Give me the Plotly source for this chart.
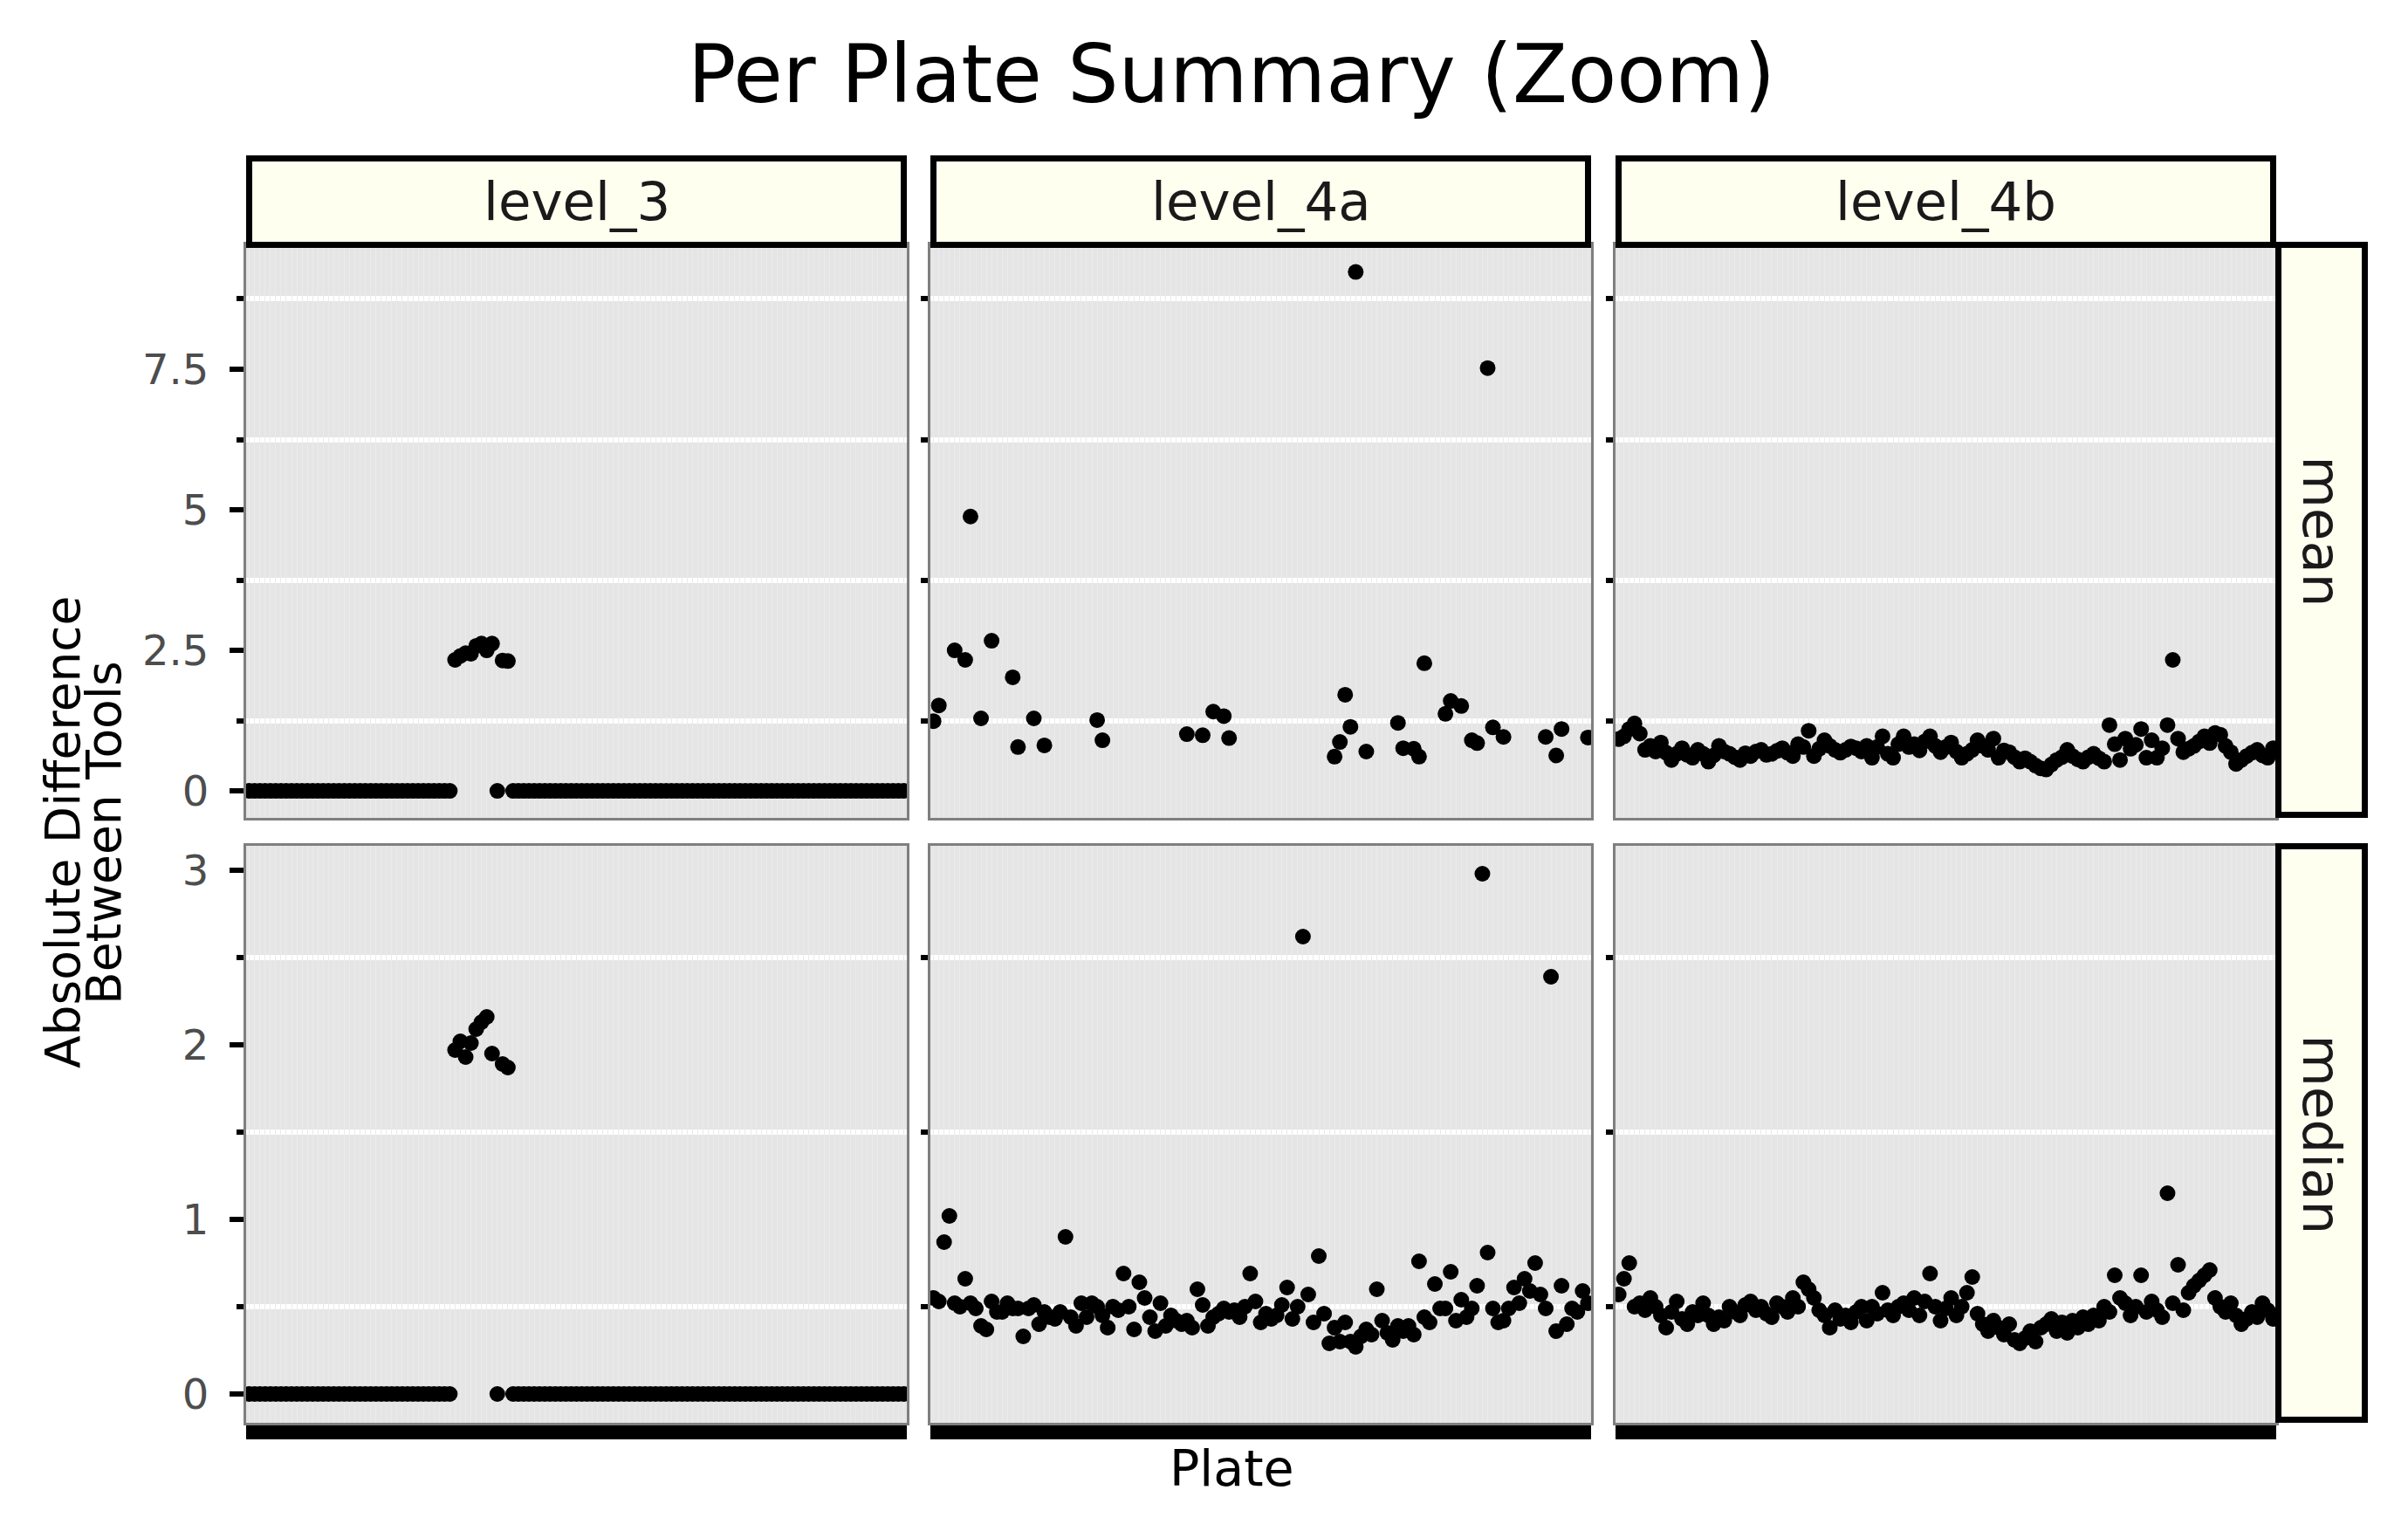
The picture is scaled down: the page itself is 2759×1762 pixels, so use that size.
import plotly.graph_objects as go
from plotly.subplots import make_subplots

# plates on the x axis (plate names are not printed in the original)
plates = list(range(1, 126))

levels = ["level_3", "level_4a", "level_4b"]
stats = ["mean", "median"]

lvl3_mean = [
    0, 0, 0, 0, 0, 0, 0, 0, 0, 0, 0, 0, 0, 0, 0, 0, 0, 0, 0, 0,
    0, 0, 0, 0, 0, 0, 0, 0, 0, 0, 0, 0, 0, 0, 0, 0, 0, 0, 0,
    2.33, 2.40, 2.45, 2.44, 2.58, 2.62, 2.50, 2.62, 0, 2.32, 2.31,
    0, 0, 0, 0, 0, 0, 0, 0, 0, 0, 0, 0, 0, 0, 0, 0, 0, 0, 0, 0,
    0, 0, 0, 0, 0, 0, 0, 0, 0, 0, 0, 0, 0, 0, 0, 0, 0, 0, 0, 0,
    0, 0, 0, 0, 0, 0, 0, 0, 0, 0, 0, 0, 0, 0, 0, 0, 0, 0, 0, 0,
    0, 0, 0, 0, 0, 0, 0, 0, 0, 0, 0, 0, 0, 0, 0,
]
lvl3_median = [
    0, 0, 0, 0, 0, 0, 0, 0, 0, 0, 0, 0, 0, 0, 0, 0, 0, 0, 0, 0,
    0, 0, 0, 0, 0, 0, 0, 0, 0, 0, 0, 0, 0, 0, 0, 0, 0, 0, 0,
    1.97, 2.02, 1.93, 2.01, 2.09, 2.13, 2.16, 1.95, 0, 1.89, 1.87,
    0, 0, 0, 0, 0, 0, 0, 0, 0, 0, 0, 0, 0, 0, 0, 0, 0, 0, 0, 0,
    0, 0, 0, 0, 0, 0, 0, 0, 0, 0, 0, 0, 0, 0, 0, 0, 0, 0, 0, 0,
    0, 0, 0, 0, 0, 0, 0, 0, 0, 0, 0, 0, 0, 0, 0, 0, 0, 0, 0, 0,
    0, 0, 0, 0, 0, 0, 0, 0, 0, 0, 0, 0, 0, 0, 0,
]

# level_4a mean only has points on some plates
lvl4a_mean_plates = [1, 2, 5, 7, 8, 10, 12, 16, 17, 20, 22, 32, 33, 49, 52, 54, 56, 57,
                     77, 78, 79, 80, 81, 83, 89, 90, 92, 93, 94, 98, 99, 101, 103, 104,
                     106, 107, 109, 117, 119, 120, 125]
lvl4a_mean = [1.24, 1.52, 2.50, 2.33, 4.88, 1.29, 2.67, 2.02, 0.78, 1.29, 0.81, 1.26, 0.90,
              1.01, 0.99, 1.41, 1.33, 0.94, 0.61, 0.87, 1.71, 1.14, 9.23, 0.70, 1.21, 0.76,
              0.75, 0.61, 2.27, 1.37, 1.60, 1.51, 0.90, 0.85, 7.52, 1.13, 0.96, 0.96, 0.63,
              1.10, 0.95]
lvl4a_median = [
    0.55, 0.53, 0.87, 1.02, 0.52, 0.50, 0.66, 0.52, 0.49, 0.39,
    0.37, 0.53, 0.47, 0.47, 0.52, 0.49, 0.49, 0.33, 0.49, 0.51,
    0.40, 0.47, 0.44, 0.43, 0.47, 0.90, 0.44, 0.39, 0.52, 0.44,
    0.52, 0.50, 0.45, 0.38, 0.50, 0.48, 0.69, 0.50, 0.37, 0.64,
    0.55, 0.44, 0.36, 0.52, 0.39, 0.45, 0.42, 0.40, 0.42, 0.38,
    0.60, 0.51, 0.39, 0.44, 0.46, 0.49, 0.47, 0.48, 0.44, 0.50,
    0.69, 0.53, 0.41, 0.46, 0.43, 0.45, 0.51, 0.61, 0.43, 0.50,
    2.62, 0.57, 0.41, 0.79, 0.46, 0.29, 0.38, 0.30, 0.41, 0.30,
    0.27, 0.33, 0.37, 0.34, 0.60, 0.42, 0.35, 0.31, 0.39, 0.36,
    0.39, 0.34, 0.76, 0.44, 0.41, 0.63, 0.49, 0.49, 0.70, 0.42,
    0.54, 0.44, 0.49, 0.62, 2.98, 0.81, 0.49, 0.41, 0.42, 0.49,
    0.61, 0.52, 0.66, 0.59, 0.75, 0.57, 0.49, 2.39, 0.36, 0.62,
    0.40, 0.49, 0.47, 0.59, 0.52,
]
lvl4b_mean = [
    0.92, 0.97, 1.10, 1.20, 1.02, 0.73, 0.80, 0.70, 0.86, 0.68,
    0.55, 0.66, 0.76, 0.64, 0.59, 0.73, 0.66, 0.52, 0.63, 0.80,
    0.70, 0.66, 0.60, 0.55, 0.67, 0.62, 0.70, 0.73, 0.64, 0.66,
    0.71, 0.76, 0.68, 0.62, 0.83, 0.78, 1.07, 0.62, 0.75, 0.90,
    0.80, 0.73, 0.68, 0.73, 0.79, 0.76, 0.70, 0.80, 0.59, 0.78,
    0.97, 0.66, 0.59, 0.83, 0.97, 0.78, 0.83, 0.72, 0.88, 0.97,
    0.80, 0.69, 0.78, 0.86, 0.70, 0.59, 0.66, 0.73, 0.90, 0.80,
    0.73, 0.93, 0.59, 0.72, 0.69, 0.60, 0.52, 0.58, 0.52, 0.45,
    0.40, 0.38, 0.47, 0.55, 0.60, 0.73, 0.62, 0.56, 0.52, 0.60,
    0.66, 0.58, 0.52, 1.17, 0.83, 0.55, 0.93, 0.75, 0.82, 1.10,
    0.59, 0.90, 0.59, 0.76, 1.17, 2.33, 0.93, 0.69, 0.75, 0.80,
    0.88, 0.97, 0.85, 1.03, 1.00, 0.80, 0.69, 0.48, 0.55, 0.62,
    0.68, 0.73, 0.63, 0.59, 0.76,
]
lvl4b_median = [
    0.57, 0.66, 0.75, 0.50, 0.52, 0.48, 0.55, 0.50, 0.45, 0.38,
    0.47, 0.53, 0.43, 0.40, 0.47, 0.45, 0.52, 0.45, 0.40, 0.44,
    0.42, 0.50, 0.47, 0.45, 0.51, 0.53, 0.48, 0.50, 0.46, 0.44,
    0.52, 0.50, 0.47, 0.55, 0.50, 0.64, 0.60, 0.55, 0.48, 0.45,
    0.38, 0.48, 0.43, 0.45, 0.41, 0.47, 0.50, 0.42, 0.50, 0.46,
    0.58, 0.48, 0.45, 0.50, 0.52, 0.48, 0.55, 0.45, 0.53, 0.69,
    0.50, 0.42, 0.49, 0.55, 0.45, 0.50, 0.58, 0.67, 0.46, 0.40,
    0.36, 0.42, 0.38, 0.34, 0.40, 0.31, 0.29, 0.32, 0.36, 0.30,
    0.38, 0.40, 0.43, 0.36, 0.41, 0.35, 0.42, 0.38, 0.44, 0.40,
    0.45, 0.42, 0.50, 0.47, 0.68, 0.55, 0.52, 0.45, 0.50, 0.68,
    0.47, 0.53, 0.48, 0.44, 1.15, 0.52, 0.74, 0.48, 0.58, 0.62,
    0.65, 0.68, 0.71, 0.55, 0.50, 0.47, 0.52, 0.45, 0.40, 0.43,
    0.47, 0.44, 0.52, 0.48, 0.43,
]

# y ticks per row (mean, median)
major_ticks = [[0, 2.5, 5, 7.5], [0, 1, 2, 3]]
major_labels = [["0", "2.5", "5", "7.5"], ["0", "1", "2", "3"]]
minor_ticks = [[1.25, 3.75, 6.25, 8.75], [0.5, 1.5, 2.5]]

panels = {
    ("mean", "level_3"): (plates, lvl3_mean),
    ("mean", "level_4a"): (lvl4a_mean_plates, lvl4a_mean),
    ("mean", "level_4b"): (plates, lvl4b_mean),
    ("median", "level_3"): (plates, lvl3_median),
    ("median", "level_4a"): (plates, lvl4a_median),
    ("median", "level_4b"): (plates, lvl4b_median),
}

# page geometry in pixels
W, H = 2759, 1762
col_px = [(282, 1039), (1066, 1823), (1851, 2608)]
row_px = [(280, 937), (969, 1630)]
y_ranges = [[-0.48, 9.72], [-0.165, 3.14]]
FONT = "DejaVu Sans"


def px(x):
    return x / W


def py(y):
    return 1 - y / H


fig = make_subplots(rows=2, cols=3)

for r, stat in enumerate(stats):
    for c, level in enumerate(levels):
        xs, ys = panels[(stat, level)]
        fig.add_trace(go.Scatter(x=xs, y=ys, mode="markers",
                                 marker=dict(color="black", size=18),
                                 showlegend=False, hoverinfo="x+y"),
                      row=r + 1, col=c + 1)
        x0, x1 = col_px[c]
        y0, y1 = row_px[r]
        # x ticks on every plate -> solid black band under the bottom row
        fig.update_xaxes(domain=[px(x0), px(x1)], range=[0.4, 125.6],
                         tickmode="array", tickvals=plates, showticklabels=False,
                         ticks="outside" if r == 1 else "", ticklen=16, tickwidth=8,
                         tickcolor="black", showgrid=True, gridcolor="#EBEBEB", gridwidth=1,
                         showline=True, linecolor="#7F7F7F", linewidth=3, mirror=True,
                         zeroline=False, row=r + 1, col=c + 1)
        fig.update_yaxes(domain=[py(y1), py(y0)], range=y_ranges[r],
                         tickmode="array", tickvals=major_ticks[r], ticktext=major_labels[r],
                         showticklabels=(c == 0), ticks="outside" if c == 0 else "",
                         ticklen=16, tickwidth=6, tickcolor="black", ticklabelstandoff=14,
                         tickfont=dict(family=FONT, size=48, color="#4D4D4D"),
                         showgrid=False, zeroline=False,
                         showline=True, linecolor="#7F7F7F", linewidth=3, mirror=True,
                         minor=dict(tickmode="array", tickvals=minor_ticks[r], ticks="outside",
                                    ticklen=8, tickwidth=6, tickcolor="black",
                                    showgrid=True, gridcolor="white", gridwidth=6),
                         row=r + 1, col=c + 1)

shapes = []
annotations = []

# column strips on top
for c, level in enumerate(levels):
    x0, x1 = col_px[c]
    shapes.append(dict(type="rect", xref="paper", yref="paper",
                       x0=px(x0 + 3.5), x1=px(x1 - 3.5), y0=py(280.5), y1=py(181.5),
                       fillcolor="#FFFFF0", line=dict(color="black", width=7), layer="above"))
    annotations.append(dict(text=level, xref="paper", yref="paper",
                            x=px((x0 + x1) / 2), y=py(231), showarrow=False,
                            xanchor="center", yanchor="middle",
                            font=dict(family=FONT, size=61, color="#1A1A1A")))

# row strips on the right
for r, stat in enumerate(stats):
    y0, y1 = row_px[r]
    shapes.append(dict(type="rect", xref="paper", yref="paper",
                       x0=px(2610.5), x1=px(2709.5), y0=py(y1 - 3.5), y1=py(y0 + 0.5),
                       fillcolor="#FFFFF0", line=dict(color="black", width=7), layer="above"))
    annotations.append(dict(text=stat, xref="paper", yref="paper",
                            x=px(2660), y=py((y0 + y1) / 2), showarrow=False,
                            xanchor="center", yanchor="middle", textangle=90,
                            font=dict(family=FONT, size=61, color="#1A1A1A")))

# title and axis titles
annotations.append(dict(text="Per Plate Summary (Zoom)", xref="paper", yref="paper",
                        x=px(1411), y=py(86), showarrow=False,
                        xanchor="center", yanchor="middle",
                        font=dict(family=FONT, size=92, color="black")))
annotations.append(dict(text="Plate", xref="paper", yref="paper",
                        x=px(1411), y=py(1682), showarrow=False,
                        xanchor="center", yanchor="middle",
                        font=dict(family=FONT, size=57, color="black")))
annotations.append(dict(text="Absolute Difference", xref="paper", yref="paper",
                        x=px(72), y=py(954), showarrow=False, textangle=-90,
                        xanchor="center", yanchor="middle",
                        font=dict(family=FONT, size=55, color="black")))
annotations.append(dict(text="Between Tools", xref="paper", yref="paper",
                        x=px(119), y=py(954), showarrow=False, textangle=-90,
                        xanchor="center", yanchor="middle",
                        font=dict(family=FONT, size=55, color="black")))

fig.update_layout(width=W, height=H, autosize=False,
                  margin=dict(l=0, r=0, t=0, b=0),
                  paper_bgcolor="white", plot_bgcolor="#E5E5E5",
                  font=dict(family=FONT),
                  shapes=shapes, annotations=annotations)

fig.write_html("out.html", config={"displayModeBar": False},
               post_script="document.body.style.margin='0';")
